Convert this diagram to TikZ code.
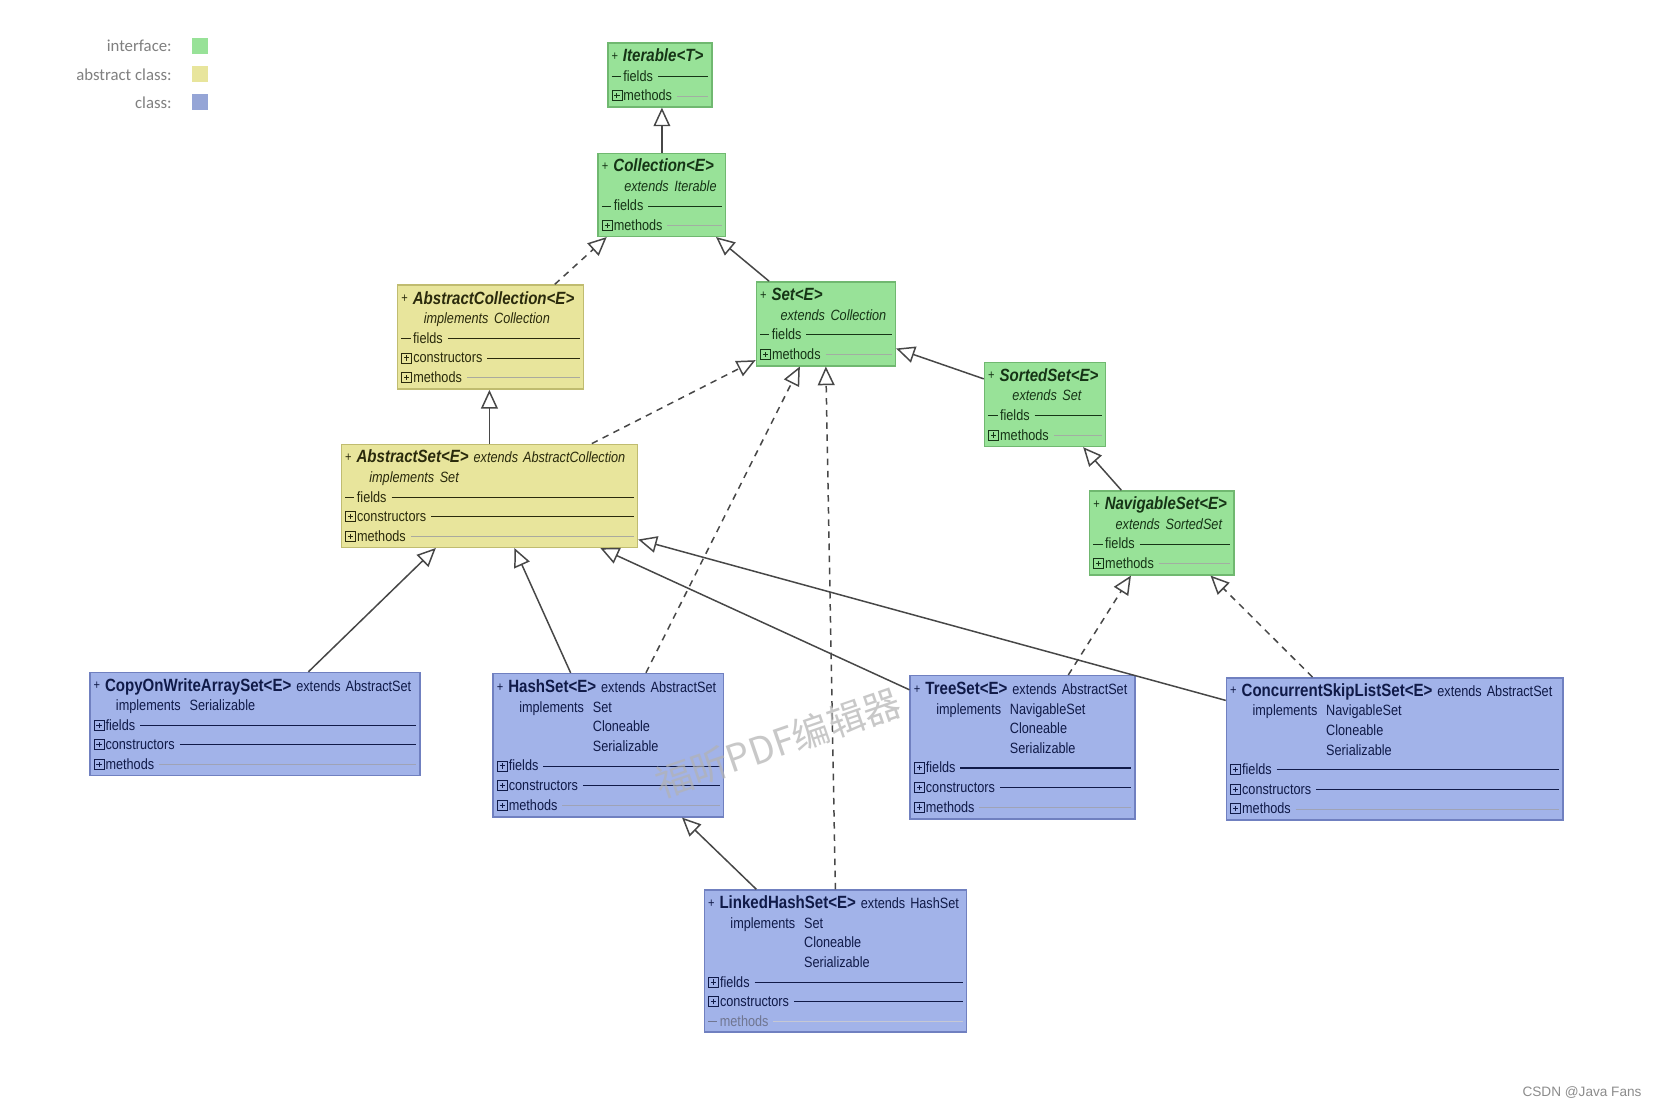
\documentclass[tikz,border=0pt]{standalone}
\usepackage{fontspec}
\setmainfont{Liberation Sans}
\newfontfamily\umlfont[FakeStretch=0.85]{Liberation Sans}
\newfontfamily\legfont{Carlito}
\newfontfamily\cjkfont{Noto Sans CJK SC}
\usetikzlibrary{arrows.meta}

\definecolor{ifill}{RGB}{152,226,152}
\definecolor{idraw}{RGB}{112,184,112}
\definecolor{itext}{RGB}{22,52,22}
\definecolor{afill}{RGB}{232,229,156}
\definecolor{adraw}{RGB}{192,188,112}
\definecolor{atext}{RGB}{42,42,12}
\definecolor{cfill}{RGB}{162,179,233}
\definecolor{cdraw}{RGB}{112,128,192}
\definecolor{ctext}{RGB}{16,26,72}

% small boxed plus in front of a section
\newcommand{\pbox}{\tikz[baseline=0pt]{\draw[line width=0.4pt] (0,0) rectangle (5.4pt,5.4pt);
  \draw[line width=0.5pt] (1.3pt,2.7pt) -- (4.1pt,2.7pt) (2.7pt,1.3pt) -- (2.7pt,4.1pt);}\hspace{0.6pt}}
\newcommand{\dashmark}{\rule[2.3pt]{5pt}{0.6pt}\,}
\newcommand{\plusmark}{{\fontsize{7}{7}\selectfont\raisebox{0.8pt}{+}}~}
\newcommand{\ttl}[1]{{\fontsize{9.5}{10.5}\selectfont\bfseries #1}}
\newcommand{\sub}[2]{\hspace*{#1}\mbox{#2}}
\newcommand{\solidsec}[2]{#1#2\ \leaders\hrule height 2.9pt depth -2.3pt\hskip 0pt plus 1fill\kern0pt}
\newcommand{\dotsec}[2]{#1#2\ {\color{.!40}\leaders\hrule height 2.75pt depth -2.35pt\hskip 0pt plus 1fill}\kern0pt}

\begin{document}
\begin{tikzpicture}[x=0.02cm, y=-0.02cm,
    box/.style={draw, line width=0.8pt, anchor=north west, inner xsep=2pt, inner ysep=1pt,
      align=left, font=\umlfont\fontsize{8}{10.5}\selectfont},
    iface/.style={box, fill=ifill, draw=idraw, text=itext},
    abst/.style={box, fill=afill, draw=adraw, text=atext},
    cls/.style={box, fill=cfill, draw=cdraw, text=ctext},
    gen/.style={draw=black!72, line width=0.8pt, -{Triangle[open, length=10pt, width=9pt]}},
    real/.style={gen, dash pattern=on 3.5pt off 3pt},
    legtext/.style={anchor=east, text=black!50, font=\legfont\fontsize{9}{10}\selectfont},
    legbox/.style={inner sep=0pt, minimum size=0.3cm}]
    \path[use as bounding box, fill=white] (0,0) rectangle (1568,1044);

    % legend
    \node[legtext] (li) at (168,43) {interface:};
    \node[legtext] (la) at (168,70) {abstract class:};
    \node[legtext] (lc) at (168,97) {class:};
    \node[legbox, fill=ifill] (sqi) at (188.5,43.5) {};
    \node[legbox, fill=afill] (sqa) at (188.5,70) {};
    \node[legbox, fill=cfill!92!black] (sqc) at (188.5,96.5) {};

    % interfaces
    \node[iface, minimum width=1.96cm, minimum height=1.2cm, text width=1.82cm] (iter) at (572,40) {
        \plusmark\ttl{\itshape Iterable<T>}\\
        \solidsec{\dashmark}{fields}\\
        \dotsec{\pbox}{methods}};
    \node[iface, minimum width=2.4cm, minimum height=1.56cm, text width=2.26cm] (coll) at (563,144) {
        \plusmark\ttl{\itshape Collection<E>}\\
        \sub{12pt}{\itshape extends\hspace{3pt}Iterable}\\
        \solidsec{\dashmark}{fields}\\
        \dotsec{\pbox}{methods}};
    \node[iface, minimum width=2.62cm, minimum height=1.58cm, text width=2.48cm] (set) at (712,265) {
        \plusmark\ttl{\itshape Set<E>}\\
        \sub{11pt}{\itshape extends\hspace{3pt}Collection}\\
        \solidsec{\dashmark}{fields}\\
        \dotsec{\pbox}{methods}};
    \node[iface, minimum width=2.28cm, minimum height=1.58cm, text width=2.14cm] (sset) at (927,341) {
        \plusmark\ttl{\itshape SortedSet<E>}\\
        \sub{13pt}{\itshape extends\hspace{3pt}Set}\\
        \solidsec{\dashmark}{fields}\\
        \dotsec{\pbox}{methods}};
    \node[iface, minimum width=2.72cm, minimum height=1.58cm, text width=2.58cm] (nset) at (1026,462) {
        \plusmark\ttl{\itshape NavigableSet<E>}\\
        \sub{12pt}{\itshape extends\hspace{3pt}SortedSet}\\
        \solidsec{\dashmark}{fields}\\
        \dotsec{\pbox}{methods}};

    % abstract classes
    \node[abst, minimum width=3.5cm, minimum height=1.96cm, text width=3.36cm] (acoll) at (374,268) {
        \plusmark\ttl{\itshape AbstractCollection<E>}\\
        \sub{12pt}{\itshape implements\hspace{3pt}Collection}\\
        \solidsec{\dashmark}{fields}\\
        \solidsec{\pbox}{constructors}\\
        \dotsec{\pbox}{methods}};
    \node[abst, minimum width=5.58cm, minimum height=1.94cm, text width=5.44cm] (aset) at (321,418) {
        \plusmark\ttl{\itshape AbstractSet<E>}~\textit{extends AbstractCollection}\\
        \sub{13pt}{\itshape implements\hspace{3pt}Set}\\
        \solidsec{\dashmark}{fields}\\
        \solidsec{\pbox}{constructors}\\
        \dotsec{\pbox}{methods}};

    % classes
    \node[cls, minimum width=6.22cm, minimum height=1.94cm, text width=6.08cm] (cow) at (84,633) {
        \plusmark\ttl{CopyOnWriteArraySet<E>}~extends AbstractSet\\
        \hspace*{12pt}\makebox[39.5pt][l]{implements}Serializable\\
        \solidsec{\pbox}{fields}\\
        \solidsec{\pbox}{constructors}\\
        \dotsec{\pbox}{methods}};
    \node[cls, minimum width=4.34cm, minimum height=2.7cm, text width=4.2cm] (hset) at (464,634) {
        \plusmark\ttl{HashSet<E>}~extends AbstractSet\\
        \hspace*{12pt}\makebox[39.5pt][l]{implements}Set\\
        \hspace*{51.5pt}Cloneable\\
        \hspace*{51.5pt}Serializable\\
        \solidsec{\pbox}{fields}\\
        \solidsec{\pbox}{constructors}\\
        \dotsec{\pbox}{methods}};
    \node[cls, minimum width=4.24cm, minimum height=2.7cm, text width=4.1cm] (tset) at (857,636) {
        \plusmark\ttl{TreeSet<E>}~extends AbstractSet\\
        \hspace*{12pt}\makebox[39.5pt][l]{implements}NavigableSet\\
        \hspace*{51.5pt}Cloneable\\
        \hspace*{51.5pt}Serializable\\
        \solidsec{\pbox}{fields}\\
        \solidsec{\pbox}{constructors}\\
        \dotsec{\pbox}{methods}};
    \node[cls, minimum width=6.34cm, minimum height=2.68cm, text width=6.2cm] (cset) at (1155,638) {
        \plusmark\ttl{ConcurrentSkipListSet<E>}~extends AbstractSet\\
        \hspace*{12pt}\makebox[39.5pt][l]{implements}NavigableSet\\
        \hspace*{51.5pt}Cloneable\\
        \hspace*{51.5pt}Serializable\\
        \solidsec{\pbox}{fields}\\
        \solidsec{\pbox}{constructors}\\
        \dotsec{\pbox}{methods}};
    \node[cls, minimum width=4.94cm, minimum height=2.68cm, text width=4.8cm] (lhset) at (663,838) {
        \plusmark\ttl{LinkedHashSet<E>}~extends HashSet\\
        \hspace*{12pt}\makebox[39.5pt][l]{implements}Set\\
        \hspace*{51.5pt}Cloneable\\
        \hspace*{51.5pt}Serializable\\
        \solidsec{\pbox}{fields}\\
        \solidsec{\pbox}{constructors}\\
        \dotsec{\color{.!60}\dashmark}{methods}};

    % generalisation (solid) and realisation (dashed)
    \draw[gen] (coll.north) -- (coll.north |- iter.south);
    \draw[real] ([xshift=1.21cm]acoll.north) -- ([xshift=-1.04cm]coll.south);
    \draw[gen] ([xshift=-1.07cm]set.north) -- ([xshift=1.02cm]coll.south);
    \draw[gen] (aset.north) -- (aset.north |- acoll.south);
    \draw[real] ([xshift=1.93cm]aset.north) -- ([yshift=0.12cm]set.south west);
    \draw[gen] ([yshift=-0.32cm]sset.north west) -- ([yshift=0.34cm]set.south east);
    \draw[gen] ([xshift=-0.76cm]nset.north) -- ([xshift=0.72cm]sset.south);
    \draw[gen] ([xshift=1.01cm]cow.north) -- ([xshift=-1.01cm]aset.south);
    \draw[gen] ([xshift=-0.71cm]hset.north) -- ([xshift=0.47cm]aset.south);
    \draw[real] ([xshift=0.71cm]hset.north) -- ([xshift=-0.49cm]set.south);
    \draw[gen] ([yshift=-0.28cm]tset.north west) -- ([xshift=2.09cm]aset.south);
    \draw[real] ([xshift=0.86cm]tset.north) -- ([xshift=-0.58cm]nset.south);
    \draw[gen] ([yshift=-0.44cm]cset.north west) -- ([yshift=0.16cm]aset.south east);
    \draw[real] ([xshift=-1.55cm]cset.north) -- ([xshift=0.92cm]nset.south);
    \draw[gen] ([xshift=-1.49cm]lhset.north) -- ([xshift=1.39cm]hset.south);
    \draw[real] (lhset.north) -- (set.south);

    % marks on the page
    \node[rotate=19, text=black!30, opacity=0.7, font=\cjkfont\fontsize{20}{20}\selectfont] (wm) at (733,700) {福昕PDF编辑器};
    \node[anchor=east, text=black!45, font=\fontsize{7.3}{8}\selectfont] (csdn) at (1553,1029) {CSDN @Java Fans};
\end{tikzpicture}
\end{document}
